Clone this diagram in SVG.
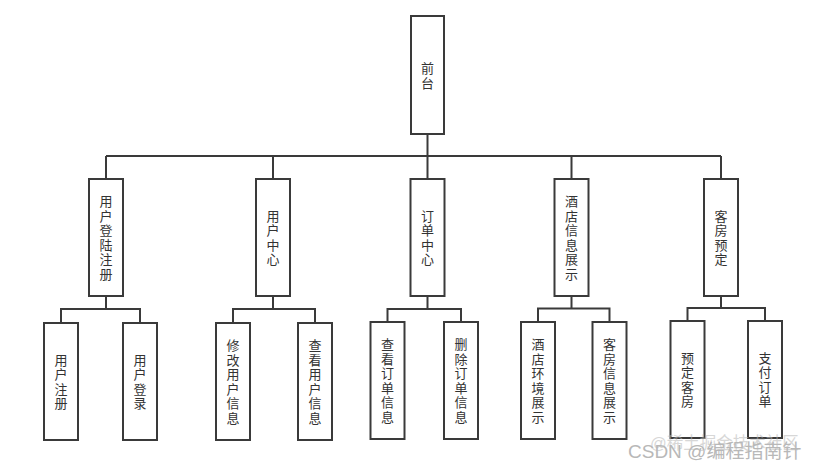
<svg xmlns="http://www.w3.org/2000/svg" width="815" height="470" viewBox="0 0 815 470">
<style>
.box{fill:#fff;stroke:#3a3a3a;stroke-width:2}
.lbl{font-family:"Noto Sans CJK SC","Noto Sans",sans-serif;font-size:13px;fill:#333;text-anchor:middle}
.wm{font-family:"Liberation Sans","Noto Sans CJK SC",sans-serif;fill:#b8b8b8}
#connectors path{fill:none;stroke:#3a3a3a;stroke-width:2}
</style>
<rect width="815" height="470" fill="#fff"/>
<g id="connectors">
<path d="M427.5 134 V156"/>
<path d="M106 156 H721"/>
<path d="M106 156 V179 M273 156 V179 M427.5 156 V179 M571.5 156 V179 M721 156 V179"/>
<path d="M106 296 V309 M61 323 V309 H140 V323"/>
<path d="M273 296 V309 M233 323 V309 H315 V323"/>
<path d="M427.5 296 V309 M387.5 322 V309 H461 V322"/>
<path d="M571.5 296 V308.5 M538 322 V308.5 H609.5 V322"/>
<path d="M721 296 V308 M687.5 321 V308 H765 V321"/>
</g>
<g id="n-root"><rect class="box" x="411" y="16" width="33" height="118"/><text class="lbl"><tspan x="427.5" y="72.5">前</tspan><tspan x="427.5" y="87.5">台</tspan></text></g>
<g id="n-reg"><rect class="box" x="89" y="179" width="34" height="117"/><text class="lbl"><tspan x="106" y="206">用</tspan><tspan x="106" y="220.5">户</tspan><tspan x="106" y="235">登</tspan><tspan x="106" y="249.5">陆</tspan><tspan x="106" y="264">注</tspan><tspan x="106" y="278.5">册</tspan></text></g>
<g id="n-user"><rect class="box" x="256" y="179" width="34" height="117"/><text class="lbl"><tspan x="273" y="220.5">用</tspan><tspan x="273" y="235">户</tspan><tspan x="273" y="249.5">中</tspan><tspan x="273" y="264">心</tspan></text></g>
<g id="n-order"><rect class="box" x="410.5" y="179" width="34" height="117"/><text class="lbl"><tspan x="427.5" y="220.5">订</tspan><tspan x="427.5" y="235">单</tspan><tspan x="427.5" y="249.5">中</tspan><tspan x="427.5" y="264">心</tspan></text></g>
<g id="n-hotel"><rect class="box" x="554.5" y="179" width="34" height="117"/><text class="lbl"><tspan x="571.5" y="206">酒</tspan><tspan x="571.5" y="220.5">店</tspan><tspan x="571.5" y="235">信</tspan><tspan x="571.5" y="249.5">息</tspan><tspan x="571.5" y="264">展</tspan><tspan x="571.5" y="278.5">示</tspan></text></g>
<g id="n-book"><rect class="box" x="704" y="179" width="34" height="117"/><text class="lbl"><tspan x="721" y="220.5">客</tspan><tspan x="721" y="235">房</tspan><tspan x="721" y="249.5">预</tspan><tspan x="721" y="264">定</tspan></text></g>
<g id="n-signup"><rect class="box" x="44" y="323" width="34" height="117"/><text class="lbl"><tspan x="61" y="364.5">用</tspan><tspan x="61" y="379">户</tspan><tspan x="61" y="393.5">注</tspan><tspan x="61" y="408">册</tspan></text></g>
<g id="n-login"><rect class="box" x="123" y="323" width="34" height="117"/><text class="lbl"><tspan x="140" y="364.5">用</tspan><tspan x="140" y="379">户</tspan><tspan x="140" y="393.5">登</tspan><tspan x="140" y="408">录</tspan></text></g>
<g id="n-edit"><rect class="box" x="216" y="323" width="34" height="117"/><text class="lbl"><tspan x="233" y="350">修</tspan><tspan x="233" y="364.5">改</tspan><tspan x="233" y="379">用</tspan><tspan x="233" y="393.5">户</tspan><tspan x="233" y="408">信</tspan><tspan x="233" y="422.5">息</tspan></text></g>
<g id="n-view"><rect class="box" x="298" y="323" width="34" height="117"/><text class="lbl"><tspan x="315" y="350">查</tspan><tspan x="315" y="364.5">看</tspan><tspan x="315" y="379">用</tspan><tspan x="315" y="393.5">户</tspan><tspan x="315" y="408">信</tspan><tspan x="315" y="422.5">息</tspan></text></g>
<g id="n-vieworder"><rect class="box" x="370.5" y="322" width="34" height="117"/><text class="lbl"><tspan x="387.5" y="349">查</tspan><tspan x="387.5" y="363.5">看</tspan><tspan x="387.5" y="378">订</tspan><tspan x="387.5" y="392.5">单</tspan><tspan x="387.5" y="407">信</tspan><tspan x="387.5" y="421.5">息</tspan></text></g>
<g id="n-delorder"><rect class="box" x="444" y="322" width="34" height="117"/><text class="lbl"><tspan x="461" y="349">删</tspan><tspan x="461" y="363.5">除</tspan><tspan x="461" y="378">订</tspan><tspan x="461" y="392.5">单</tspan><tspan x="461" y="407">信</tspan><tspan x="461" y="421.5">息</tspan></text></g>
<g id="n-env"><rect class="box" x="521" y="322" width="34" height="117"/><text class="lbl"><tspan x="538" y="349">酒</tspan><tspan x="538" y="363.5">店</tspan><tspan x="538" y="378">环</tspan><tspan x="538" y="392.5">境</tspan><tspan x="538" y="407">展</tspan><tspan x="538" y="421.5">示</tspan></text></g>
<g id="n-room"><rect class="box" x="592.5" y="322" width="34" height="117"/><text class="lbl"><tspan x="609.5" y="349">客</tspan><tspan x="609.5" y="363.5">房</tspan><tspan x="609.5" y="378">信</tspan><tspan x="609.5" y="392.5">息</tspan><tspan x="609.5" y="407">展</tspan><tspan x="609.5" y="421.5">示</tspan></text></g>
<g id="n-reserve"><rect class="box" x="670.5" y="321" width="34" height="117"/><text class="lbl"><tspan x="687.5" y="362.5">预</tspan><tspan x="687.5" y="377">定</tspan><tspan x="687.5" y="391.5">客</tspan><tspan x="687.5" y="406">房</tspan></text></g>
<g id="n-pay"><rect class="box" x="748" y="321" width="34" height="117"/><text class="lbl"><tspan x="765" y="362.5">支</tspan><tspan x="765" y="377">付</tspan><tspan x="765" y="391.5">订</tspan><tspan x="765" y="406">单</tspan></text></g>
<text class="wm" x="650" y="449" style="font-size:16.5px;opacity:0.55">@稀土掘金技术社区</text>
<text class="wm" x="628" y="458" style="font-size:19px">CSDN @编程指南针</text>
</svg>
